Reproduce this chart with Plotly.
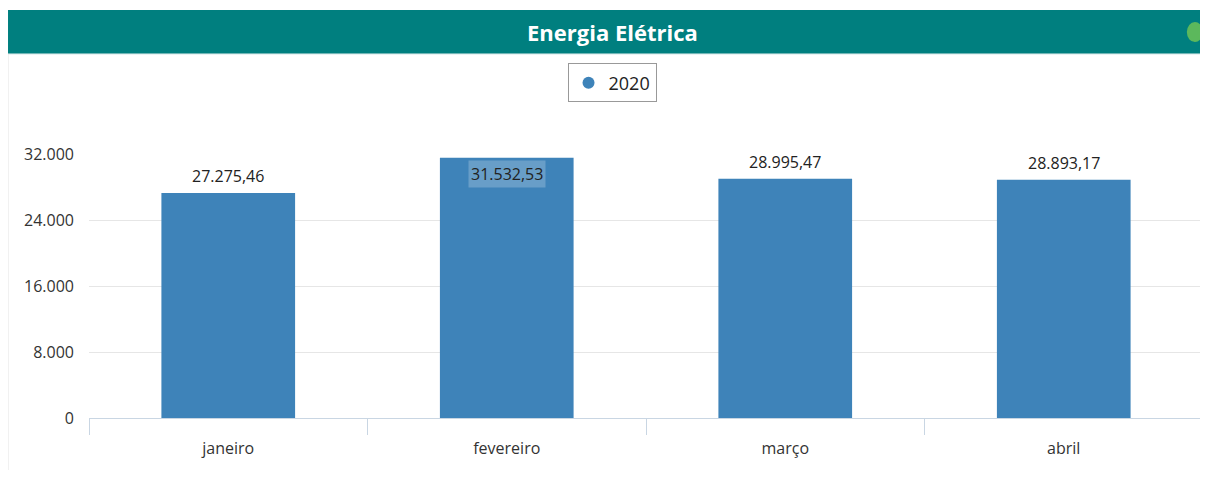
import plotly.graph_objects as go

months = ['janeiro', 'fevereiro', 'março', 'abril']
energia_2020 = [27275.46, 31532.53, 28995.47, 28893.17]
y_ticks = [0, 8000, 16000, 24000, 32000]
series_name = '2020'
title_text = 'Energia Elétrica'

FONT = 'Open Sans, sans-serif'
BAR_COLOR = '#3e83b9'
TEAL = '#007f7f'


def fmt_br(v: float) -> str:
    s = f'{v:,.2f}'
    return s.replace(',', 'X').replace('.', ',').replace('X', '.')


fig = go.Figure()

fig.add_trace(
    go.Bar(
        x=months,
        y=energia_2020,
        marker=dict(color=BAR_COLOR, line=dict(width=0)),
        width=0.48,
        showlegend=False,
        hoverinfo='skip',
    )
)
# legend entry with a round marker
fig.add_trace(
    go.Scatter(
        x=[None],
        y=[None],
        mode='markers',
        name=series_name,
        marker=dict(color=BAR_COLOR, size=16, symbol='circle'),
    )
)

# value labels: above the bar, except when the bar reaches the top
for m, v in zip(months, energia_2020):
    inside = v > 30000
    fig.add_annotation(
        x=m,
        y=v,
        text=fmt_br(v),
        showarrow=False,
        yanchor='top' if inside else 'bottom',
        yshift=-2 if inside else 3,
        font=dict(family=FONT, size=16, color='#222222'),
        bgcolor='rgba(255,255,255,0.22)' if inside else None,
        borderpad=2,
    )

# header band
fig.add_shape(
    type='rect', xref='paper', yref='paper',
    x0=-0.0727, x1=1.02, y0=1.379, y1=1.545,
    fillcolor=TEAL, line=dict(width=0), layer='below',
)
fig.add_shape(
    type='line', xref='paper', yref='paper',
    x0=-0.0727, x1=1.02, y0=1.379, y1=1.379,
    line=dict(color='#cfe3e3', width=1),
)
fig.add_shape(
    type='circle', xref='paper', yref='paper',
    x0=0.9855, x1=1.0, y0=1.424, y1=1.50,
    fillcolor='#5cb85c', line=dict(width=0),
)
fig.add_shape(
    type='line', xref='paper', yref='paper',
    x0=-0.0727, x1=-0.0727, y0=-0.25, y1=1.379,
    line=dict(color='#e3e3e3', width=1),
)
fig.add_annotation(
    xref='paper', yref='paper', x=0.4695, y=1.462,
    xanchor='center', yanchor='middle',
    text='<b>' + title_text + '</b>', showarrow=False,
    font=dict(family=FONT, size=22, color='white'),
)

fig.update_layout(
    width=1200,
    height=462,
    paper_bgcolor='white',
    plot_bgcolor='white',
    separators=',.',
    margin=dict(l=81, r=5, t=146, b=52),
    font=dict(family=FONT, size=15, color='#333333'),
    bargap=0.52,
    legend=dict(
        orientation='h',
        x=0.4695, xanchor='center',
        y=1.343, yanchor='top',
        bordercolor='#999999', borderwidth=1,
        font=dict(family=FONT, size=18, color='#222222'),
        itemsizing='constant',
    ),
    xaxis=dict(
        showgrid=False,
        showline=True,
        linecolor='#c9d6e3',
        ticks='outside',
        ticklen=16,
        tickcolor='#c9d6e3',
        tickson='boundaries',
        ticklabelstandoff=16,
        tickfont=dict(family=FONT, size=16, color='#333333'),
    ),
    yaxis=dict(
        range=[0, 32000],
        tickvals=y_ticks,
        tickformat=',d',
        showgrid=True,
        gridcolor='#e6e6e6',
        zeroline=False,
        showline=False,
        ticklabelstandoff=14,
        tickfont=dict(family=FONT, size=16, color='#333333'),
    ),
)

fig.write_html('out.html')
